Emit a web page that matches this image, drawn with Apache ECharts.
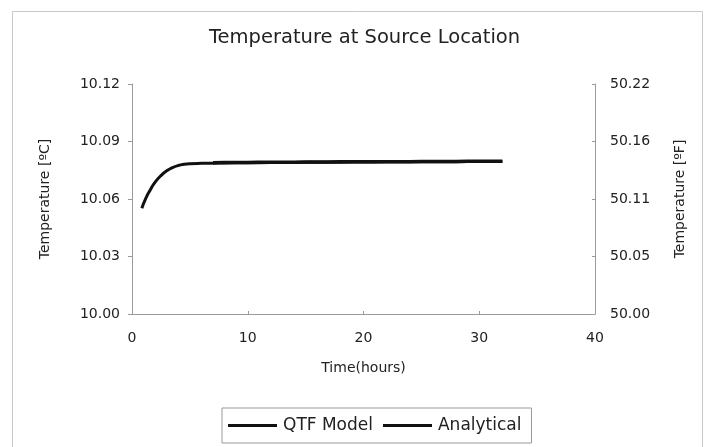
<!DOCTYPE html>
<html>
<head>
<meta charset="utf-8">
<script src="https://cdn.jsdelivr.net/npm/echarts@6/dist/echarts.min.js"></script>
<style>
html,body{margin:0;padding:0;background:#fff;}
#c{width:704px;height:447px;}
</style>
</head>
<body>
<div id="c"></div>
<script>
const title = 'Temperature at Source Location';
const xTitle = 'Time(hours)';
const yLeftTitle = 'Temperature [ºC]';
const yRightTitle = 'Temperature [ºF]';
const rightTickLabels = ['50.00', '50.05', '50.11', '50.16', '50.22'];

const qtfTime = [0.85, 1.2, 1.6, 2, 2.5, 3, 3.5, 4, 4.5, 5, 6, 7, 8, 10, 12, 14, 16, 18, 20, 22, 24, 26, 28, 30, 32];
const qtfTemp = [10.0552, 10.0605, 10.0650, 10.0688, 10.0722, 10.0747, 10.0764, 10.0775, 10.0781, 10.0784, 10.0786, 10.0787, 10.0788, 10.0789, 10.0790, 10.0791, 10.0792, 10.0792, 10.0793, 10.0794, 10.0794, 10.0795, 10.0795, 10.0796, 10.0796];

const anaTime = [7, 8, 10, 12, 14, 16, 18, 20, 22, 24, 26, 28, 30, 32];
const anaTemp = [10.0789, 10.0790, 10.0791, 10.0792, 10.0792, 10.0793, 10.0794, 10.0794, 10.0795, 10.0795, 10.0796, 10.0796, 10.0797, 10.0797];

const chart = echarts.init(document.getElementById('c'), null, {renderer: 'canvas'});
const txt = '#222';
const axisCol = '#9a9a9a';
const font = 'DejaVu Sans, sans-serif';

chart.setOption({
  animation: false,
  backgroundColor: '#fff',
  textStyle: {fontFamily: font},
  graphic: [{
    type: 'rect', left: 10, top: 9, shape: {width: 690, height: 436},
    style: {fill: 'none', stroke: '#c8c8c8', lineWidth: 1}, silent: true
  }],
  title: {
    text: title, left: 204, top: 23,
    textStyle: {fontSize: 19.5, fontWeight: 'normal', color: txt, fontFamily: font}
  },
  legend: {
    left: 222, top: 408,
    itemWidth: 49, itemHeight: 3, itemGap: 10,
    icon: 'rect',
    padding: [9, 10, 9, 6],
    borderColor: '#999', borderWidth: 1,
    textStyle: {fontSize: 17, color: txt, fontFamily: font, padding: [0, 0, 0, 1]},
    data: ['QTF Model', 'Analytical']
  },
  grid: {left: 132, right: 109, top: 84, bottom: 133, containLabel: false},
  xAxis: {
    type: 'value', min: 0, max: 40, interval: 10,
    name: xTitle, nameLocation: 'middle', nameGap: 47,
    nameTextStyle: {fontSize: 14, color: txt},
    axisLine: {lineStyle: {color: axisCol}},
    axisTick: {show: true, inside: true, length: 3, lineStyle: {color: axisCol}},
    axisLabel: {fontSize: 14, color: txt, margin: 17},
    splitLine: {show: false}
  },
  yAxis: [{
    type: 'value', min: 10, max: 10.12, interval: 0.03, position: 'left',
    name: yLeftTitle, nameLocation: 'middle', nameGap: 80, nameRotate: 90,
    nameTextStyle: {fontSize: 14, color: txt},
    axisLine: {show: true, lineStyle: {color: axisCol}},
    axisTick: {show: true, length: 4, lineStyle: {color: axisCol}},
    axisLabel: {fontSize: 14, color: txt, margin: 12, formatter: v => v.toFixed(2)},
    splitLine: {show: false}
  }, {
    type: 'value', min: 10, max: 10.12, interval: 0.03, position: 'right',
    name: yRightTitle, nameLocation: 'middle', nameGap: 78, nameRotate: 90,
    nameTextStyle: {fontSize: 14, color: txt},
    axisLine: {show: true, lineStyle: {color: axisCol}},
    axisTick: {show: true, inside: true, length: 3, lineStyle: {color: axisCol}},
    axisLabel: {fontSize: 14, color: txt, margin: 15, formatter: (v, i) => rightTickLabels[i]},
    splitLine: {show: false}
  }],
  series: [{
    name: 'QTF Model', type: 'line', smooth: true, showSymbol: false,
    yAxisIndex: 0,
    lineStyle: {color: '#111', width: 3},
    itemStyle: {color: '#111'},
    data: qtfTime.map((t, i) => [t, qtfTemp[i]])
  }, {
    name: 'Analytical', type: 'line', smooth: true, showSymbol: false,
    yAxisIndex: 0,
    lineStyle: {color: '#111', width: 3.5},
    itemStyle: {color: '#111'},
    data: anaTime.map((t, i) => [t, anaTemp[i]])
  }]
});
</script>
</body>
</html>
